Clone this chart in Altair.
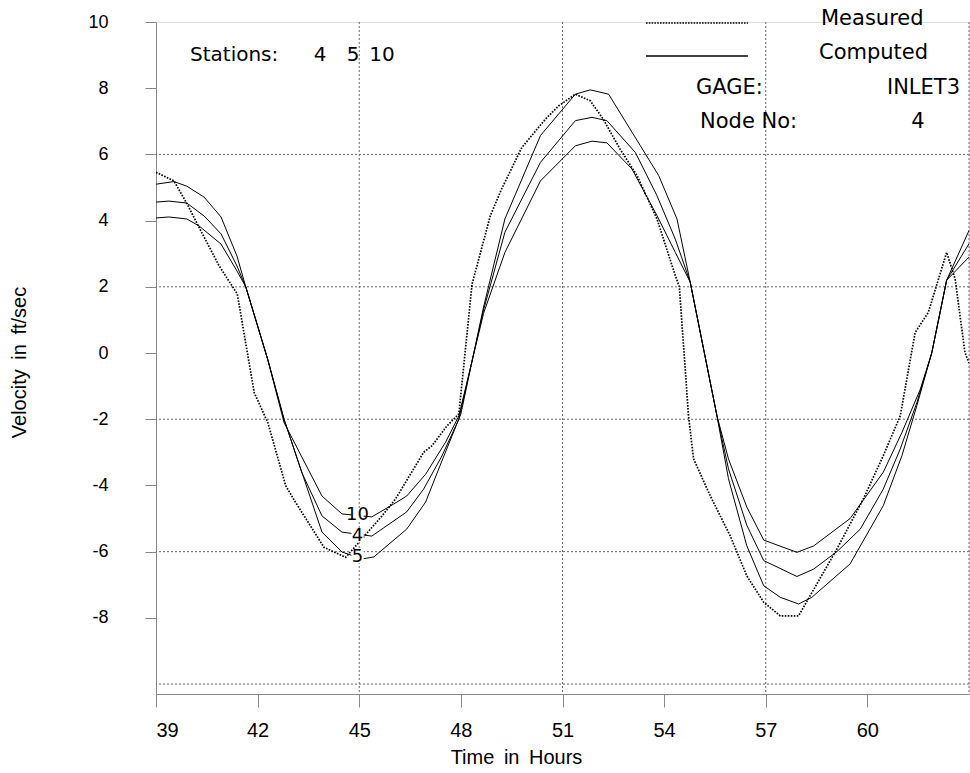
import altair as alt
import pandas as pd

# Measured velocity at gage INLET3 (time in hours, velocity in ft/sec)
meas_t = [39.0, 39.53, 39.92, 40.37, 40.86, 41.4, 41.9, 42.3, 42.83, 43.12, 43.96, 44.6,
          44.99, 45.68, 46.07, 46.9, 47.15, 47.59, 47.94, 48.33, 48.87, 49.2, 49.8, 50.5,
          50.89, 51.38, 51.82, 52.2, 52.7, 53.2, 53.79, 54.33, 54.45, 54.72, 54.87, 55.36,
          55.95, 56.44, 56.94, 57.43, 57.97, 58.31, 59.1, 59.88, 60.47, 60.97, 61.41, 61.8,
          62.34, 62.59, 62.88, 63.0]
meas_v = [5.46, 5.2, 4.5, 3.6, 2.64, 1.78, -1.2, -2.1, -4.01, -4.51, -5.87, -6.17,
          -5.72, -4.91, -4.41, -3.0, -2.8, -2.2, -1.84, 2.08, 4.15, 4.95, 6.21, 7.07,
          7.47, 7.82, 7.62, 7.07, 6.16, 5.36, 4.05, 2.34, 2.0, -1.9, -3.2, -4.31,
          -5.52, -6.73, -7.53, -7.94, -7.94, -7.33, -5.92, -4.41, -3.1, -1.9, 0.62, 1.23,
          3.04, 2.24, 0.02, -0.3]

# Computed velocity, station 5
st5_t = [39.0, 39.53, 39.91, 40.42, 40.92, 41.39, 41.65, 42.3, 42.78, 43.9, 44.49, 45.08,
         45.43, 46.4, 46.96, 47.44, 48.0, 48.67, 49.3, 50.35, 51.38, 51.82, 52.36, 53.3,
         53.84, 54.38, 54.77, 55.56, 55.9, 56.44, 56.94, 57.43, 57.97, 58.36, 59.49, 60.47,
         61.02, 61.46, 61.9, 62.34, 63.0]
st5_v = [5.1, 5.18, 5.04, 4.71, 4.11, 2.93, 2.0, -0.2, -2.0, -5.41, -6.01, -6.22,
         -6.16, -5.32, -4.5, -3.26, -1.84, 1.39, 4.05, 6.57, 7.82, 7.95, 7.82, 6.26,
         5.36, 4.05, 2.14, -1.9, -3.8, -5.82, -7.03, -7.38, -7.58, -7.38, -6.37, -4.61,
         -3.1, -1.59, 0.0, 2.2, 3.7]

# Computed velocity, station 4
st4_t = [39.0, 39.38, 39.91, 40.42, 40.92, 41.39, 41.65, 42.3, 42.78, 43.3, 43.9, 44.49,
         45.37, 46.4, 46.9, 47.44, 47.94, 48.67, 49.3, 50.35, 51.38, 51.87, 52.31, 53.15,
         53.79, 54.33, 54.77, 55.56, 55.9, 56.44, 56.94, 57.92, 58.41, 59.1, 59.79, 60.47,
         60.97, 61.46, 61.9, 62.34, 63.0]
st4_v = [4.56, 4.59, 4.53, 4.14, 3.6, 2.63, 2.0, -0.2, -2.0, -3.6, -4.92, -5.41,
         -5.53, -4.8, -4.11, -3.11, -2.0, 1.3, 3.65, 5.76, 7.02, 7.12, 7.02, 6.06,
         4.75, 3.44, 2.14, -1.9, -3.5, -5.2, -6.27, -6.75, -6.53, -6.0, -5.32, -4.11,
         -2.9, -1.5, 0.0, 2.2, 3.3]

# Computed velocity, station 10
st10_t = [39.0, 39.38, 39.91, 40.27, 40.92, 41.39, 41.65, 42.3, 42.78, 43.9, 44.49, 45.37,
          46.02, 46.4, 46.96, 47.55, 47.94, 48.67, 49.3, 50.35, 51.38, 51.87, 52.31, 53.05,
          53.79, 54.33, 54.77, 55.56, 55.9, 56.44, 56.94, 57.92, 58.41, 59.49, 60.47, 61.02,
          61.56, 61.9, 62.34, 63.0]
st10_v = [4.08, 4.11, 4.05, 3.84, 3.29, 2.48, 2.0, -0.2, -2.1, -4.32, -4.86, -4.95,
          -4.56, -4.32, -3.66, -2.69, -1.9, 1.2, 3.04, 5.2, 6.26, 6.4, 6.35, 5.56,
          4.15, 3.04, 2.14, -1.9, -3.2, -4.65, -5.65, -6.02, -5.83, -5.0, -3.6, -2.4,
          -1.1, 0.0, 2.2, 2.9]

# Station tags written on the first trough
tag_names = ["10", "4", "5"]
tag_t = [44.95, 44.95, 44.95]
tag_v = [-4.9, -5.53, -6.17]

x_ticks = [39, 42, 45, 48, 51, 54, 57, 60]
y_ticks = [-8, -6, -4, -2, 0, 2, 4, 6, 8, 10]
grid_x = [45, 51, 57, 63]
grid_y = [-10, -6, -2, 2, 6]

FONT = "DejaVu Sans"
W, H = 813, 672

x_scale = alt.Scale(domain=[39, 63], nice=False, zero=False)
y_scale = alt.Scale(domain=[-10.3, 10], nice=False, zero=False)

x_axis = alt.Axis(values=x_ticks, title="Time \u2009in \u2009Hours", grid=False,
                  labelFontSize=20, labelPadding=13, tickSize=13,
                  labelExpr="'' + datum.value",
                  titleX=360, titleY=63, titleAlign="center", titleBaseline="middle",
                  titleFontSize=20, titleFontWeight="normal")
y_axis = alt.Axis(values=y_ticks, title="Velocity \u2009in \u2009ft/sec", grid=False,
                  labelFontSize=18, labelPadding=37, tickSize=11,
                  labelExpr="'' + datum.value",
                  titleX=-137, titleY=340, titleAngle=270, titleAlign="center",
                  titleBaseline="middle", titleFontSize=20, titleFontWeight="normal")


def xe(field):
    return alt.X(field, type="quantitative", scale=x_scale, axis=x_axis)


def ye(field):
    return alt.Y(field, type="quantitative", scale=y_scale, axis=y_axis)


meas = pd.DataFrame({"t": meas_t, "v": meas_v})
comp = pd.concat([
    pd.DataFrame({"t": st4_t, "v": st4_v, "station": "4"}),
    pd.DataFrame({"t": st5_t, "v": st5_v, "station": "5"}),
    pd.DataFrame({"t": st10_t, "v": st10_v, "station": "10"}),
], ignore_index=True)
tags = pd.DataFrame({"t": tag_t, "v": tag_v, "name": tag_names})

grid_v = alt.Chart(pd.DataFrame({"t": grid_x})).mark_rule(
    color="#666", strokeWidth=1, strokeDash=[2, 2]
).encode(x=xe("t"))

grid_h = alt.Chart(pd.DataFrame({"v": grid_y})).mark_rule(
    color="#666", strokeWidth=1, strokeDash=[2, 2]
).encode(y=ye("v"))

computed = alt.Chart(comp).mark_line(color="black", strokeWidth=1, clip=True).encode(
    x=xe("t"), y=ye("v"), detail="station:N"
)

measured = alt.Chart(meas).mark_line(
    color="black", strokeWidth=1.7, strokeDash=[1.6, 1.4], clip=True
).encode(x=xe("t"), y=ye("v"))

# small white patches so the station numbers sit clear of the curves
tag_patch = alt.Chart(tags).mark_point(
    shape="square", size=150, filled=True, color="white", opacity=1
).encode(x=xe("t"), y=ye("v"))
tag_text = alt.Chart(tags).mark_text(
    font=FONT, fontSize=18, color="black"
).encode(x=xe("t"), y=ye("v"), text="name:N")

one = pd.DataFrame({"k": [0]})


def note(txt, px, py, align="left", size=20):
    return alt.Chart(one).mark_text(
        font=FONT, fontSize=size, color="black", align=align, baseline="middle"
    ).encode(x=alt.value(px), y=alt.value(py), text=alt.value(txt))


def sample(py, dash):
    kw = {"strokeDash": dash} if dash else {}
    return alt.Chart(one).mark_rule(color="black", strokeWidth=1.3, **kw).encode(
        x=alt.value(490), x2=alt.value(592), y=alt.value(py)
    )


notes = [
    note("Stations:", 34, 33),
    note("4", 164, 33, "center"),
    note("5", 197, 33, "center"),
    note("10", 226, 33, "center"),
    sample(1, [1.6, 1.2]),
    sample(34, None),
    note("Measured", 665, -3, size=21),
    note("Computed", 663, 31, size=21),
    note("GAGE:", 540, 66, size=21),
    note("INLET3", 804, 66, "right", size=21),
    note("Node No:", 544, 100, size=21),
    note("4", 762, 100, "center", size=21),
]

chart = alt.layer(
    grid_v, grid_h, computed, measured, tag_patch, tag_text, *notes
).properties(
    width=W, height=H,
    autosize="none",
    padding={"left": 156, "top": 22, "right": 1, "bottom": 79},
).configure_view(stroke=None).configure_axis(
    domainColor="black", domainWidth=2, tickColor="black", tickWidth=1.5,
    labelFont=FONT, labelColor="black", titleFont=FONT, titleColor="black",
).configure(background="white")

chart.save("out.html", embed_options={"renderer": "svg", "actions": False})
